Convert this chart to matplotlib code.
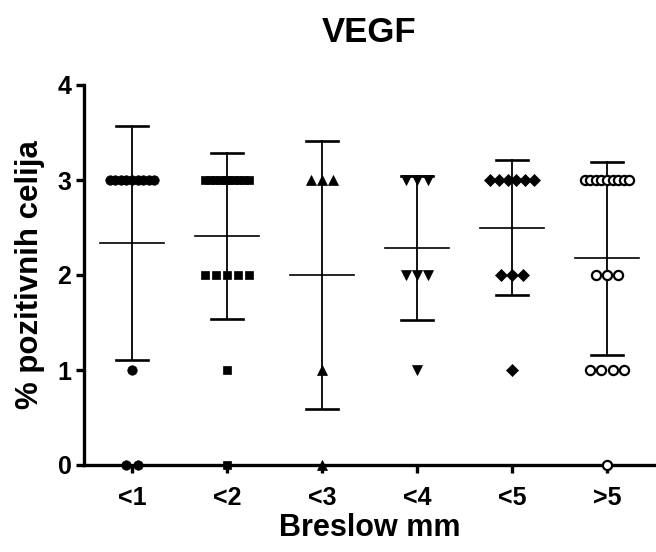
import numpy as np
import matplotlib
matplotlib.use("Agg")
import matplotlib.pyplot as plt

plt.rcParams['font.family'] = ['Liberation Sans', 'DejaVu Sans']
plt.rcParams['font.weight'] = 'bold'

# Breslow thickness groups and VEGF scores (% positive cells) per patient
groups = ["<1", "<2", "<3", "<4", "<5", ">5"]
lt1 = [3, 3, 3, 3, 3, 3, 3, 3, 3, 1, 0, 0]
lt2 = [3, 3, 3, 3, 3, 3, 3, 3, 3, 3, 2, 2, 2, 2, 2, 1, 0]
lt3 = [3, 3, 3, 1, 0]
lt4 = [3, 3, 3, 2, 2, 2, 1]
lt5 = [3, 3, 3, 3, 3, 3, 2, 2, 2, 1]
gt5 = [3, 3, 3, 3, 3, 3, 3, 3, 3, 2, 2, 2, 1, 1, 1, 1, 0]
series = [lt1, lt2, lt3, lt4, lt5, gt5]

styles = [
    dict(marker='o', ms=6.8, mfc='black', mec='black', mew=0.5),
    dict(marker='s', ms=6.0, mfc='black', mec='black', mew=0.5),
    dict(marker='^', ms=7.2, mfc='black', mec='black', mew=0.5),
    dict(marker='v', ms=7.2, mfc='black', mec='black', mew=0.5),
    dict(marker='D', ms=5.8, mfc='black', mec='black', mew=0.5),
    dict(marker='o', ms=6.6, mfc='white', mec='black', mew=1.6),
]


def spread(n):
    """Horizontal offsets for n points that share one value."""
    if n == 1:
        return np.zeros(1)
    step = min(0.12, 0.47 / (n - 1))
    return (np.arange(n) - (n - 1) / 2.0) * step


fig = plt.figure(figsize=(6.56, 5.52), dpi=100)
ax = fig.add_axes([84 / 656, 87 / 552, 571 / 656, 380 / 552])

for i, (vals, st) in enumerate(zip(series, styles)):
    x0 = i + 1
    vals = np.asarray(vals, dtype=float)
    for v in np.unique(vals):
        n = int(np.sum(vals == v))
        xs = x0 + spread(n)
        ax.plot(xs, np.full(n, v), linestyle='none', clip_on=False,
                zorder=3, **st)
    m = vals.mean()
    sd = vals.std(ddof=1)
    ax.plot([x0, x0], [m - sd, m + sd], color='black', lw=1.3, zorder=2)
    ax.plot([x0 - 0.17, x0 + 0.17], [m + sd, m + sd], color='black', lw=1.9, zorder=2)
    ax.plot([x0 - 0.17, x0 + 0.17], [m - sd, m - sd], color='black', lw=1.9, zorder=2)
    ax.plot([x0 - 0.34, x0 + 0.34], [m, m], color='black', lw=1.2, zorder=2)

ax.set_xlim(0.495, 6.505)
ax.set_ylim(0, 4)
ax.set_xticks(range(1, len(groups) + 1))
ax.set_xticklabels(groups)
ax.set_yticks([0, 1, 2, 3, 4])

for s in ['top', 'right']:
    ax.spines[s].set_visible(False)
for s in ['left', 'bottom']:
    ax.spines[s].set_linewidth(2.4)
ax.tick_params(axis='both', width=2.4, length=6, labelsize=18)
ax.tick_params(axis='x', pad=9)
ax.tick_params(axis='y', pad=3)
for lab in ax.get_xticklabels() + ax.get_yticklabels():
    lab.set_fontweight('bold')

ax.set_xlabel("Breslow mm", fontsize=22, fontweight='bold', labelpad=2)
ax.set_ylabel("% pozitivnih celija", fontsize=22.5, fontweight='bold', labelpad=9)
ax.set_title("VEGF", fontsize=25, fontweight='bold', pad=31)

fig.savefig("out.png", dpi=100)
